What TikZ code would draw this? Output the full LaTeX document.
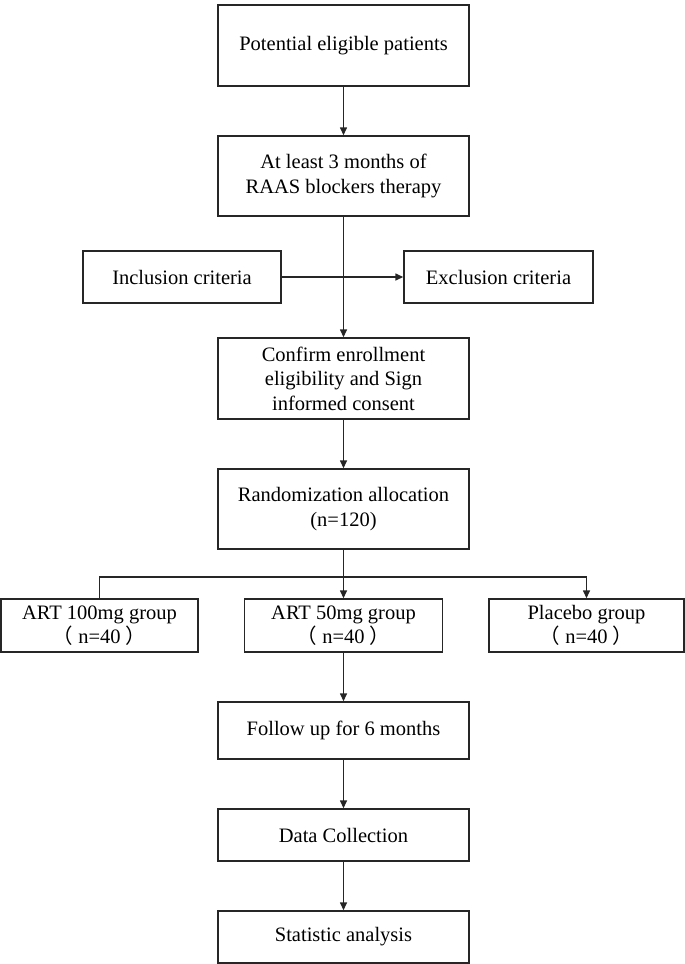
\documentclass[tikz,border=0pt]{standalone}
\usepackage{fontspec}
\setmainfont{Liberation Serif}
\newfontfamily\cjk{Noto Sans CJK SC}
\usepackage{tikz}
\usetikzlibrary{arrows.meta}

\begin{document}
\begin{tikzpicture}[x=1pt, y=-1pt,
        box/.style={draw=black!85, line width=1.4pt, align=center, inner sep=0pt,
            font=\fontsize{20.5}{24.5}\selectfont},
        arr/.style={draw=black!85, line width=1.4pt, -{Triangle[length=8pt,width=7pt]}},
        ln/.style={draw=black!85, line width=1.4pt}]
        \useasboundingbox (0,0) rectangle (685,964);

        \node[box, minimum width=251pt, minimum height=81pt] (pot) at (343.5,45.5) {Potential eligible patients};
        \node[box, minimum width=251pt, minimum height=80pt] (raas) at (343.5,176) {At least 3 months of\\RAAS blockers therapy};
        \node[box, minimum width=198pt, minimum height=52pt] (incl) at (182,277) {Inclusion criteria};
        \node[box, minimum width=189pt, minimum height=52pt] (excl) at (498.5,277) {Exclusion criteria};
        \node[box, minimum width=251pt, minimum height=81pt] (conf) at (343.5,378.5) {Confirm enrollment\\eligibility and Sign\\informed consent};
        \node[box, minimum width=251pt, minimum height=80pt] (rand) at (343.5,509) {Randomization allocation\\(n=120)};
        \node[box, minimum width=197pt, minimum height=53pt] (art100) at (99.5,625.5) {ART 100mg group\\{\cjk （} n=40 {\cjk ）}};
        \node[box, minimum width=198pt, minimum height=53pt] (art50) at (343.5,625.5) {ART 50mg group\\{\cjk （} n=40 {\cjk ）}};
        \node[box, minimum width=195pt, minimum height=53pt] (plac) at (586.5,625.5) {Placebo group\\{\cjk （} n=40 {\cjk ）}};
        \node[box, minimum width=251pt, minimum height=57pt] (follow) at (343.5,730.5) {Follow up for 6 months};
        \node[box, minimum width=251pt, minimum height=52pt] (data) at (343.5,835) {Data Collection};
        \node[box, minimum width=251pt, minimum height=52pt] (stat) at (343.5,937) {Statistic analysis};

        \coordinate (split) at (343.5,577);

        \draw[arr] (pot) -- (raas);
        \draw[arr] (raas) -- (conf);
        \draw[arr] (incl) -- (excl);
        \draw[arr] (conf) -- (rand);
        \draw[ln] (rand) -- (split);
        \draw[arr] (split) -- (art50);
        \draw[ln] (split) -| (art100.north);
        \draw[arr] (split) -| (plac.north);
        \draw[arr] (art50) -- (follow);
        \draw[arr] (follow) -- (data);
        \draw[arr] (data) -- (stat);
    \end{tikzpicture}
\end{document}
